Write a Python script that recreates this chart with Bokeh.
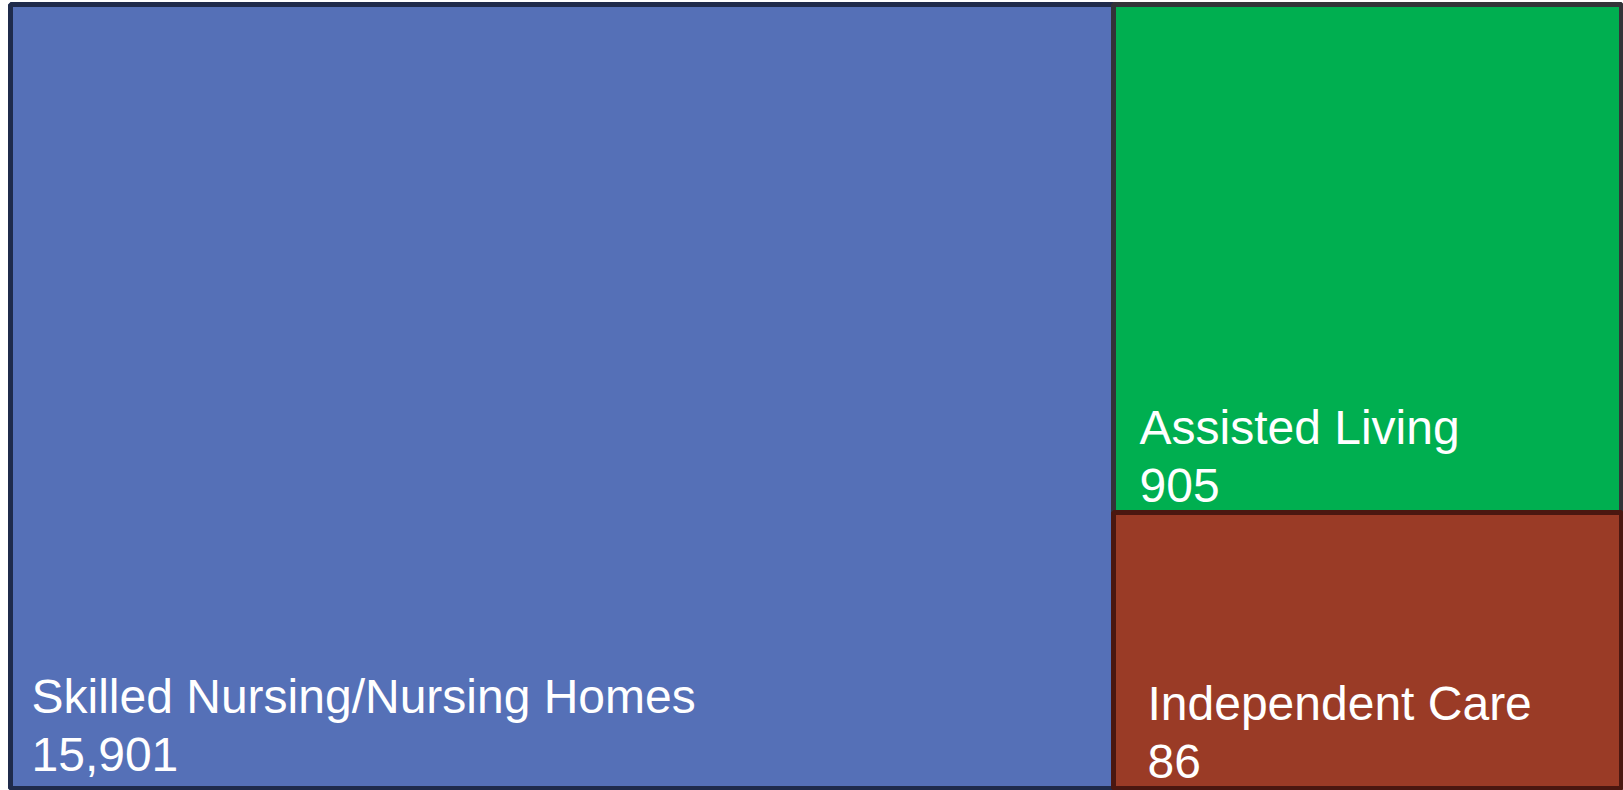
from bokeh.plotting import figure
from bokeh.models import Range1d, ColumnDataSource
from bokeh.core.properties import value
from bokeh.embed import file_html
from bokeh.resources import INLINE

# ---- data ----
categories = ["Skilled Nursing/Nursing Homes", "Assisted Living", "Independent Care"]
counts = [15901, 905, 86]
fill_colors = ["#5570B7", "#00AF50", "#9A3B26"]
edge_colors = ["#1F2B4B", "#333338", "#4A1710"]

# ---- layout (pixel units of the page) ----
LEFT, RIGHT, TOP, BOTTOM = 10, 1621, 4, 788
SPLIT_X, SPLIT_Y = 1113, 512
rects = [
    (LEFT, SPLIT_X, TOP, BOTTOM),
    (SPLIT_X, RIGHT, TOP, SPLIT_Y),
    (SPLIT_X, RIGHT, SPLIT_Y, BOTTOM),
]
label_pad_x = [21, 26, 34]
label_pad_bottom = [34, 27, 27]
LINE_GAP = 58

src = ColumnDataSource(dict(
    left=[r[0] for r in rects],
    right=[r[1] for r in rects],
    top=[r[2] for r in rects],
    bottom=[r[3] for r in rects],
    fill=fill_colors,
    edge=edge_colors,
    name=categories,
    val=[f"{c:,}" for c in counts],
    lx=[r[0] + px for r, px in zip(rects, label_pad_x)],
    vy=[r[3] - pb for r, pb in zip(rects, label_pad_bottom)],
    ny=[r[3] - pb - LINE_GAP for r, pb in zip(rects, label_pad_bottom)],
))

p = figure(width=1623, height=790, x_range=Range1d(0, 1623), y_range=Range1d(790, 0),
           output_backend="svg", toolbar_location=None, min_border=0)
p.xaxis.visible = False
p.yaxis.visible = False
p.grid.visible = False
p.outline_line_color = None
p.background_fill_color = "white"
p.border_fill_color = "white"

p.quad(left="left", right="right", top="top", bottom="bottom", source=src,
       fill_color="fill", line_color="edge", line_width=5)

common = dict(text_color="white", text_font=value("Liberation Sans"),
              text_font_size="48px", text_align="left", text_baseline="alphabetic")
p.text(x="lx", y="ny", text="name", source=src, **common)
p.text(x="lx", y="vy", text="val", source=src, **common)

open("out.html", "w").write(file_html(p, INLINE))
